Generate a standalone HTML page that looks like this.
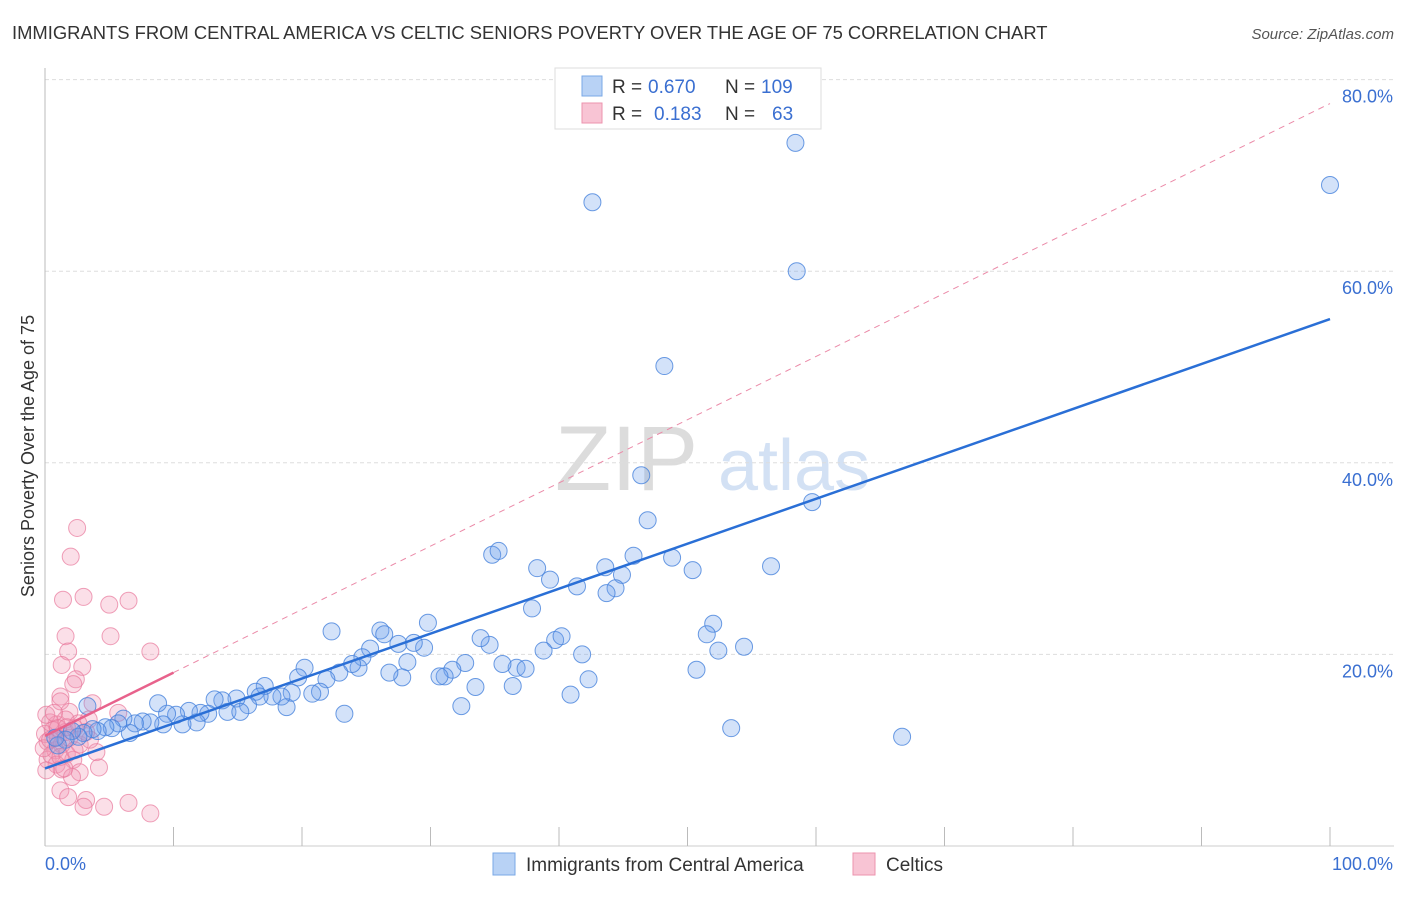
<!DOCTYPE html>
<html><head><meta charset="utf-8"><style>
body{margin:0;background:#fff;font-family:"Liberation Sans",sans-serif;}
svg text{font-family:"Liberation Sans",sans-serif;}
</style></head><body>
<svg width="1406" height="892" xmlns="http://www.w3.org/2000/svg">
<text x="12" y="39" font-size="18.4" fill="#333">IMMIGRANTS FROM CENTRAL AMERICA VS CELTIC SENIORS POVERTY OVER THE AGE OF 75 CORRELATION CHART</text>
<text x="1394" y="39" font-size="15" fill="#555" font-style="italic" text-anchor="end">Source: ZipAtlas.com</text>
<g opacity="0.5">
<text x="555" y="490" font-size="92" font-family="Liberation Serif" fill="#bbb">ZIP</text>
<text x="718" y="490" font-size="72" fill="#a9c4ea">atlas</text>
</g>
<g id="grid"></g><g id="axes"></g><g id="pts"></g><g id="lines"></g>
<text transform="translate(34,456) rotate(-90)" font-size="18" fill="#333" text-anchor="middle">Seniors Poverty Over the Age of 75</text>
<g>
<rect x="555" y="68" width="266" height="61" fill="#fff" stroke="#ddd"/>
<rect x="582" y="76" width="20" height="20" fill="#b8d2f5" stroke="#7aa8e6"/>
<text x="612" y="93" font-size="19" fill="#333">R =</text>
<text x="648" y="93" font-size="19" fill="#3a6fd1">0.670</text>
<text x="725" y="93" font-size="19" fill="#333">N =</text>
<text x="761" y="93" font-size="19" fill="#3a6fd1">109</text>
<rect x="582" y="103" width="20" height="20" fill="#f8c4d4" stroke="#ec93ae"/>
<text x="612" y="120" font-size="19" fill="#333">R =</text>
<text x="654" y="120" font-size="19" fill="#3a6fd1">0.183</text>
<text x="725" y="120" font-size="19" fill="#333">N =</text>
<text x="772" y="120" font-size="19" fill="#3a6fd1">63</text>
</g>
<g>
<rect x="493" y="853" width="22" height="22" fill="#b8d2f5" stroke="#7aa8e6"/>
<text x="526" y="871" font-size="19" fill="#333">Immigrants from Central America</text>
<rect x="853" y="853" width="22" height="22" fill="#f8c4d4" stroke="#ec93ae"/>
<text x="886" y="871" font-size="19" fill="#333">Celtics</text>
</g>
</svg>
<script>
const xTicks=[0,10,20,30,40,50,60,70,80,90,100];
const yTicks=[20,40,60,80];
const yTickLabels=["20.0%","40.0%","60.0%","80.0%"];
const blueX=[58.4,42.6,100,58.5,48.2,46.4,59.7,46.9,34.8,35.3,38.3,39.3,43.6,45.8,48.8,50.4,44.9,44.4,43.7,41.4,37.9,56.5,52.0,51.5,54.4,52.4,50.7,53.4,66.7,39.7,40.2,41.8,38.8,42.3,40.9,36.7,37.4,35.6,36.4,34.6,33.9,32.7,31.7,31.1,30.7,33.5,32.4,29.8,29.5,28.7,27.5,28.2,27.8,26.8,26.1,26.4,25.3,24.7,24.4,23.9,22.9,22.3,23.3,21.9,21.4,20.8,20.2,19.7,18.8,19.2,18.4,17.7,17.1,16.4,16.7,15.8,14.9,13.8,13.2,14.2,15.2,12.7,12.1,11.8,11.2,10.7,10.2,9.5,8.8,9.2,8.2,7.6,7.0,6.6,6.1,5.7,5.2,4.7,4.1,3.7,3.3,3.0,2.6,2.1,1.6,1.0,0.8];
const blueY=[73.4,67.2,69.0,60.0,50.1,38.7,35.9,34.0,30.4,30.8,29.0,27.8,29.1,30.3,30.1,28.8,28.3,26.9,26.4,27.1,24.8,29.2,23.2,22.1,20.8,20.4,18.4,12.3,11.4,21.5,21.9,20.0,20.4,17.4,15.8,18.6,18.5,19.0,16.7,21.0,21.7,19.1,18.4,17.7,17.7,16.6,14.6,23.3,20.7,21.2,21.1,19.2,17.6,18.1,22.5,22.1,20.6,19.7,18.6,19.0,18.1,22.4,13.8,17.4,16.1,15.9,18.6,17.6,14.5,16.0,15.6,15.6,16.7,16.1,15.6,14.7,15.4,15.2,15.3,14.0,14.0,13.8,13.9,12.9,14.1,12.7,13.7,13.8,14.9,12.7,12.9,13.0,12.8,11.8,13.3,12.8,12.3,12.4,12.0,12.2,14.6,11.8,11.4,12.0,11.1,10.5,11.3];
const pinkX=[2.5,2.0,1.4,3.0,5.0,6.5,1.6,5.1,1.8,8.2,1.3,2.9,2.4,2.2,1.2,1.2,1.9,3.7,5.7,0.9,0.6,0.2,0.8,1.7,2.2,0.2,4.0,4.2,2.7,1.2,1.8,3.2,3.0,4.6,6.5,8.2,0.0,0.4,1.0,1.3,1.6,0.5,1.9,2.3,2.7,3.5,0.9,1.3,2.1,3.4,1.6,0.1,-0.1,0.7,2.6,1.2,3.2,1.5,0.4,1.0,1.7,2.3,0.1];
const pinkY=[33.2,30.2,25.7,26.0,25.2,25.6,21.9,21.9,20.3,20.3,18.9,18.7,17.4,16.9,15.6,15.1,14.0,14.9,13.9,12.7,12.1,10.9,10.0,9.6,9.0,9.0,9.8,8.2,7.7,5.8,5.1,4.8,4.1,4.1,4.5,3.4,11.7,12.9,11.3,10.6,11.9,9.5,11.3,12.3,10.6,11.1,8.5,8.0,7.2,13.2,13.2,13.7,10.2,13.9,12.8,9.3,11.9,8.1,11.1,12.3,12.4,10.0,7.9];
const blueTrend=[8.1,55.0];
const pinkTrend=[11.5,0.66];
const pinkSolidEnd=10.0;
const NS="http://www.w3.org/2000/svg";
const X=v=>45+v*12.85, Y=v=>846-v*9.58;
function mk(tag,attrs,parent){const e=document.createElementNS(NS,tag);for(const k in attrs)e.setAttribute(k,attrs[k]);parent.appendChild(e);return e;}
const grid=document.getElementById('grid'),axes=document.getElementById('axes'),pts=document.getElementById('pts'),lines=document.getElementById('lines');
yTicks.forEach((t,i)=>{
 const l=mk('line',{x1:45,x2:1394,y1:Y(t),y2:Y(t),stroke:'#ddd','stroke-dasharray':'4,3'},grid);
 
 
 const tx=mk('text',{x:1393,y:Y(t)+23,'font-size':18,fill:'#3a6fd1','text-anchor':'end'},axes);
 tx.textContent=yTickLabels[i];
 
 
});
let a=mk('line',{x1:45,x2:45,y1:68,y2:846,stroke:'#bbb'},axes);


a=mk('line',{x1:45,x2:1394,y1:846,y2:846,stroke:'#ccc'},axes);


xTicks.forEach(t=>{
 const l=mk('line',{x1:X(t),x2:X(t),y1:827,y2:846,stroke:'#bbb'},axes);
 
 
});
let t0=mk('text',{x:45,y:870,'font-size':18,fill:'#3a6fd1'},axes);t0.textContent='0.0%';


let t1=mk('text',{x:1393,y:870,'font-size':18,fill:'#3a6fd1','text-anchor':'end'},axes);t1.textContent='100.0%';


pinkX.forEach((x,i)=>{
 const c=mk('circle',{cx:X(x),cy:Y(pinkY[i]),r:8.5,fill:'rgba(242,150,180,0.3)',stroke:'rgba(232,120,155,0.7)','stroke-width':1},pts);
 
 
});
blueX.forEach((x,i)=>{
 const c=mk('circle',{cx:X(x),cy:Y(blueY[i]),r:8.5,fill:'rgba(110,160,235,0.3)',stroke:'rgba(70,130,220,0.8)','stroke-width':1},pts);
 
 
});
let L=mk('line',{x1:X(0),y1:Y(blueTrend[0]),x2:X(100),y2:Y(blueTrend[1]),stroke:'#2a6fd6','stroke-width':2.5},lines);


const py=x=>pinkTrend[0]+pinkTrend[1]*x;
L=mk('line',{x1:X(pinkSolidEnd),y1:Y(py(pinkSolidEnd)),x2:X(100),y2:Y(py(100)),stroke:'#eb8aa8','stroke-width':1,'stroke-dasharray':'6,5'},lines);


L=mk('line',{x1:X(0),y1:Y(py(0)),x2:X(pinkSolidEnd),y2:Y(py(pinkSolidEnd)),stroke:'#e8628c','stroke-width':2.5},lines);


</script>
</body></html>
